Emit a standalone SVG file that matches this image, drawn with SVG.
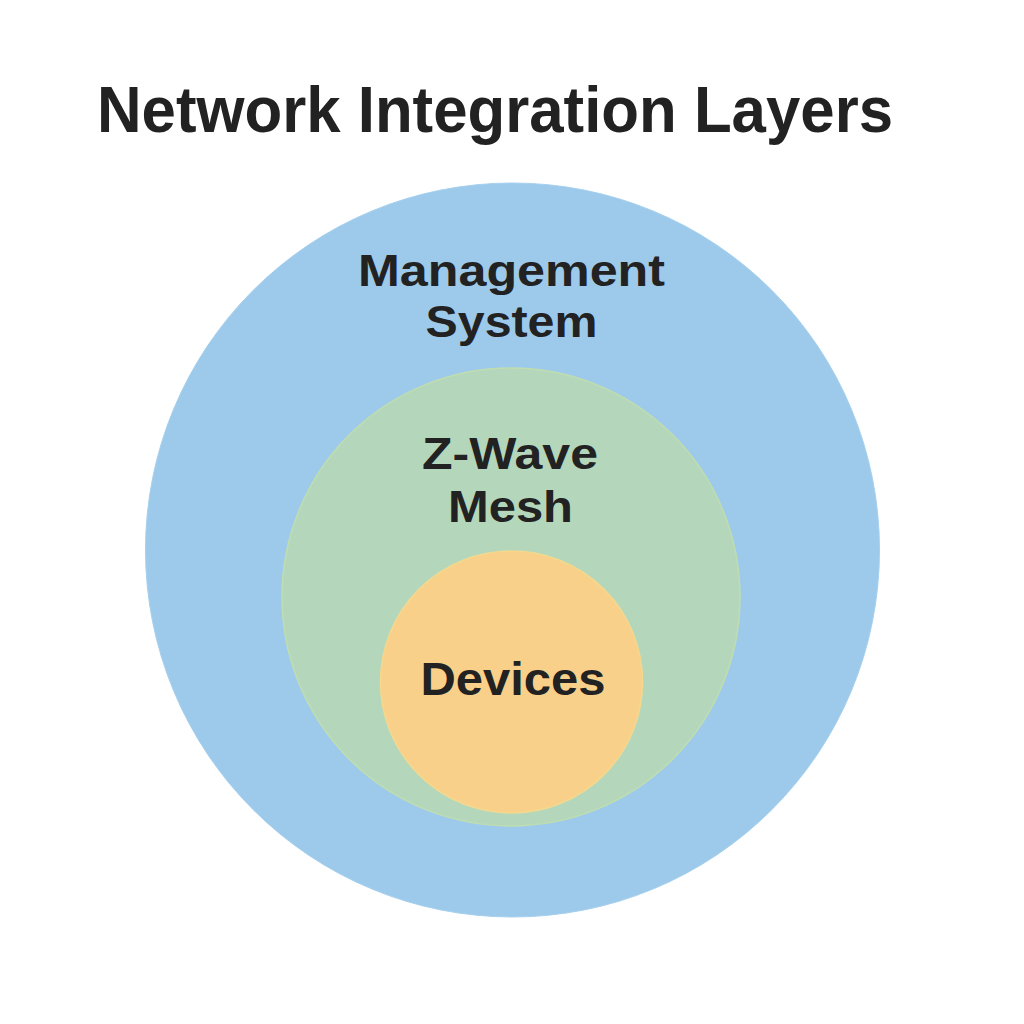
<svg xmlns="http://www.w3.org/2000/svg" width="1024" height="1024" viewBox="0 0 1024 1024">
  <style>
    .lbl { font-family: "Liberation Sans", Arial, sans-serif; font-weight: bold; fill: #222222; text-anchor: middle; }
    .title { font-size: 64px; }
    .node { font-size: 46px; }
    .two { font-size: 44px; }
  </style>
  <rect width="1024" height="1024" fill="#ffffff"/>
  <text class="lbl title" x="495" y="132" textLength="796" lengthAdjust="spacingAndGlyphs">Network Integration Layers</text>
  <g id="management">
    <circle cx="512.5" cy="550" r="367" fill="#9DCAEB" stroke="#A6D0EE" stroke-width="1"/>
    <text class="lbl two" x="511.5" y="286" textLength="307" lengthAdjust="spacingAndGlyphs">Management</text>
    <text class="lbl two" x="511.5" y="337" textLength="172" lengthAdjust="spacingAndGlyphs">System</text>
  </g>
  <g id="zwave">
    <circle cx="511" cy="597" r="229" fill="#B4D7BC" stroke="#BFDDB0" stroke-width="1.5"/>
    <text class="lbl two" x="510" y="469" textLength="176" lengthAdjust="spacingAndGlyphs">Z-Wave</text>
    <text class="lbl two" x="510.5" y="522" textLength="125" lengthAdjust="spacingAndGlyphs">Mesh</text>
  </g>
  <g id="devices">
    <circle cx="511.5" cy="682" r="131" fill="#F8D08A" stroke="#F3D88E" stroke-width="1.5"/>
    <text class="lbl node" x="513" y="695" textLength="185" lengthAdjust="spacingAndGlyphs">Devices</text>
  </g>
  <g id="connectors"/>
</svg>
